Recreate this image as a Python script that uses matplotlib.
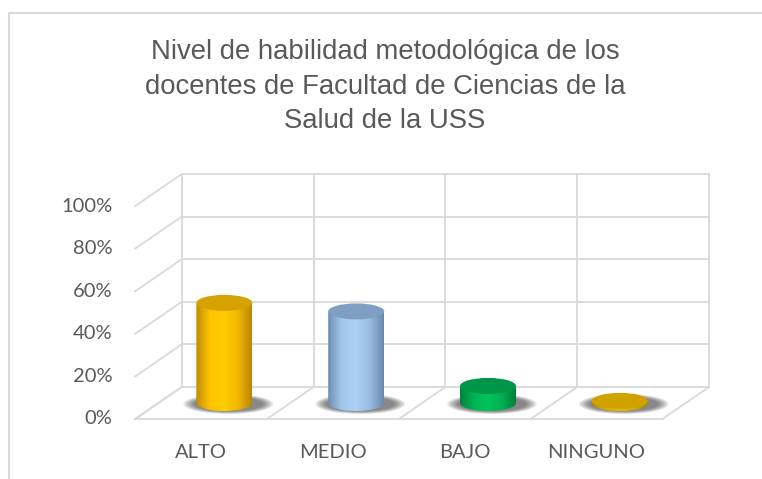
import matplotlib
matplotlib.use("Agg")
import matplotlib.pyplot as plt
import numpy as np
from matplotlib import transforms
from matplotlib.patches import PathPatch, Ellipse
from matplotlib.path import Path
from matplotlib.lines import Line2D
from matplotlib.colors import LinearSegmentedColormap

categories = ["ALTO", "MEDIO", "BAJO", "NINGUNO"]
values = [0.47, 0.43, 0.08, 0.01]
tick_values = [0.0, 0.2, 0.4, 0.6, 0.8, 1.0]
tick_labels = ["0%", "20%", "40%", "60%", "80%", "100%"]
title = "Nivel de habilidad metodológica de los\ndocentes de Facultad de Ciencias de la\nSalud de la USS"

body_colors = [
    ["#C08C00", "#FFC400", "#FFCC00", "#F2B800", "#B88600"],
    ["#6E8EB0", "#A2C8EE", "#ACD0F4", "#98BCE0", "#6888AA"],
    ["#00803A", "#00B656", "#00C25C", "#00AE50", "#007A36"],
    ["#B08A00", "#E0B000", "#E8B800", "#D8A800", "#A88400"],
]
top_colors = ["#D6A200", "#7F9EC2", "#00964A", "#CFA200"]

W, H, DPI = 762, 479, 100
fig = plt.figure(figsize=(W / DPI, H / DPI), dpi=DPI)
fig.patch.set_facecolor("white")

# back wall box in pixels
bx0, bx1, by0, by1 = 181.7, 709.0, 174.0, 387.0
ax = fig.add_axes([bx0 / W, 1 - by1 / H, (bx1 - bx0) / W, (by1 - by0) / H])
ax.set_xlim(0, len(categories))
ax.set_ylim(0, 1)
ax.axis("off")

ddx, ddy = -46.5, -32.0  # depth offset in pixels (front = back + offset)
front_tr = ax.transData + transforms.ScaledTranslation(ddx / DPI, ddy / DPI, fig.dpi_scale_trans)
mid_tr = ax.transData + transforms.ScaledTranslation(ddx / 2 / DPI, ddy / 2 / DPI, fig.dpi_scale_trans)

grid_c = "#D9D9D9"
lw = 1.3
n = len(categories)

def disp_line(p0, p1, **kw):
    fig.add_artist(Line2D([p0[0], p1[0]], [p0[1], p1[1]], transform=transforms.IdentityTransform(),
                          color=grid_c, lw=lw, zorder=1, **kw))

# back wall grid
for t in tick_values:
    ax.plot([0, n], [t, t], color=grid_c, lw=lw, zorder=1, clip_on=False)
for i in range(n + 1):
    ax.plot([i, i], [0, 1], color=grid_c, lw=lw, zorder=1, clip_on=False)
# side wall diagonals
for t in tick_values:
    disp_line(ax.transData.transform((0, t)), front_tr.transform((0, t)))
# floor diagonals and front edge
for i in range(n + 1):
    disp_line(ax.transData.transform((i, 0)), front_tr.transform((i, 0)))
disp_line(front_tr.transform((0, 0)), front_tr.transform((n, 0)))

# tick labels
lab_font = dict(family=["Lato", "DejaVu Sans"], color="#595959", fontsize=14.5)
tick_tr = front_tr + transforms.ScaledTranslation(-23 / DPI, 0, fig.dpi_scale_trans)
for t, lab in zip(tick_values, tick_labels):
    ax.text(0, t, lab, transform=tick_tr, ha="right", va="center", clip_on=False, **lab_font)
cat_tr = front_tr + transforms.ScaledTranslation(0, -34 / DPI, fig.dpi_scale_trans)
for i, c in enumerate(categories):
    ax.text(i + 0.5, 0, c, transform=cat_tr, ha="center", va="center", clip_on=False, **lab_font)

# cylinders
px_x = (bx1 - bx0) / n
px_y = (by1 - by0)
r = 28.0 / px_x
e = 8.0 / px_y
for i, v in enumerate(values):
    cx = i + 0.5
    # shadow
    for k in range(8):
        ax.add_patch(Ellipse((cx + 4.0 / px_x, -1.0 / px_y), 2 * r + (34 - 3 * k) / px_x,
                             2 * e * (1.25 - k * 0.05), transform=mid_tr,
                             facecolor="black", edgecolor="none", alpha=0.075, zorder=2,
                             clip_on=False))
    # body
    th = np.linspace(0, np.pi, 60)
    pts = [(cx - r, v), (cx + r, v)]
    pts += [(cx + r * np.cos(a), -e * np.sin(a)) for a in th]
    pts.append((cx - r, v))
    path = Path(pts, closed=False)
    patch = PathPatch(path, transform=mid_tr, facecolor="none", edgecolor="none", zorder=3,
                      clip_on=False)
    ax.add_patch(patch)
    cmap = LinearSegmentedColormap.from_list("c%d" % i, body_colors[i])
    grad = np.linspace(0, 1, 256).reshape(1, -1)
    im = ax.imshow(grad, cmap=cmap, extent=[cx - r, cx + r, -e, v], transform=mid_tr,
                   aspect="auto", zorder=3, interpolation="bilinear")
    im.set_clip_path(patch)
    im.set_clip_box(fig.bbox)
    # top
    ax.add_patch(Ellipse((cx, v), 2 * r, 2 * e, transform=mid_tr,
                         facecolor=top_colors[i], edgecolor="none", zorder=4, clip_on=False))

ax.set_xlim(0, n)
ax.set_ylim(0, 1)

# title
fig.text(385 / W, 1 - 86.5 / H, title, ha="center", va="center", color="#595959",
         fontsize=19.8, family=["Liberation Sans", "DejaVu Sans"], linespacing=1.41)

# chart border (left and top)
fig.add_artist(Line2D([9, 9, W + 5], [-5, H - 12.5, H - 12.5], transform=transforms.IdentityTransform(),
                      color="#D9D9D9", lw=1.5))

fig.savefig("out.png", dpi=DPI, facecolor="white")
